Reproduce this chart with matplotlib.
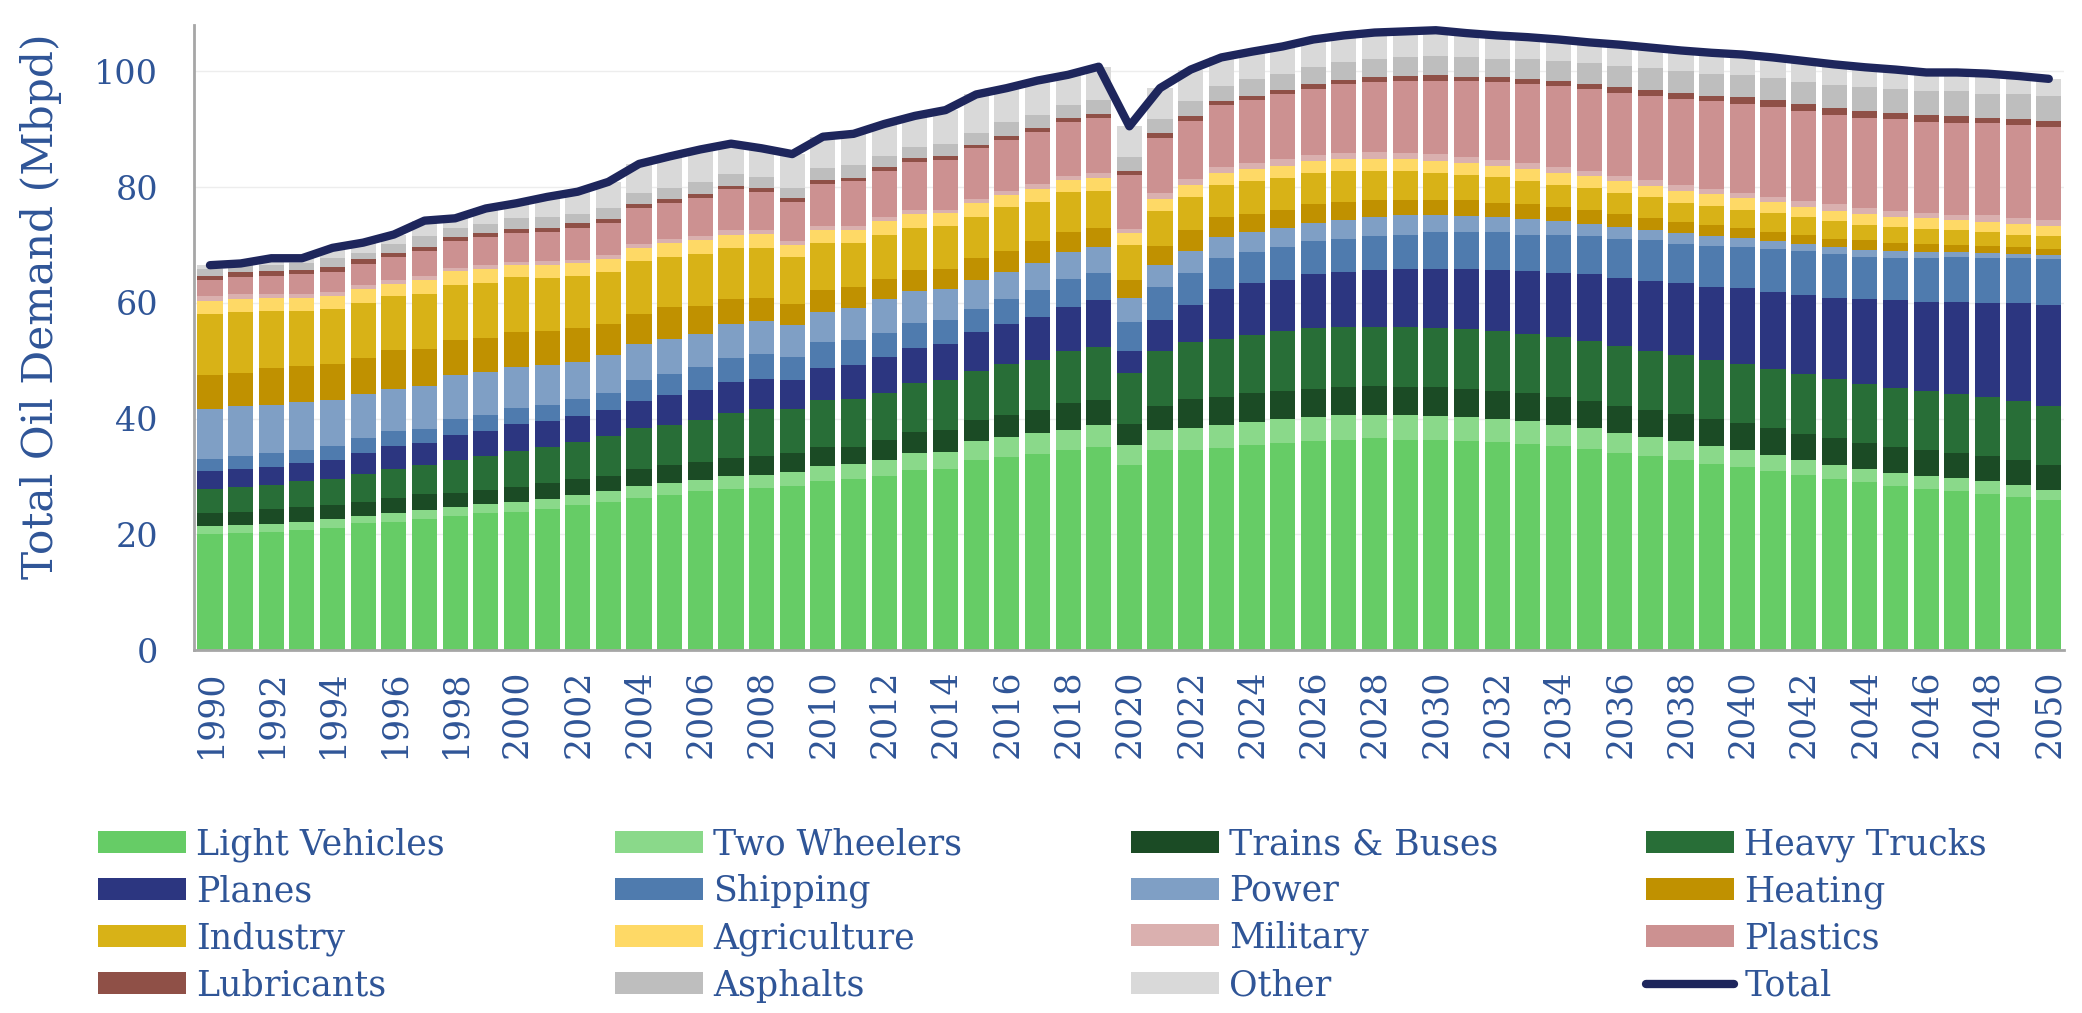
import numpy as np
import matplotlib
matplotlib.use('Agg')
import matplotlib.pyplot as plt
from matplotlib.patches import Patch
from matplotlib.lines import Line2D

plt.rcParams['font.family'] = 'DejaVu Serif'

years = list(range(1990, 2051))

# Oil demand by end use (Mbpd)
light_vehicles = [20.0, 20.2, 20.4, 20.8, 21.1, 21.9, 22.2, 22.7, 23.2, 23.7,
                  23.8, 24.4, 25.0, 25.6, 26.3, 26.8, 27.4, 27.9, 28.0, 28.3,
                  29.2, 29.5, 30.1, 31.1, 31.3, 32.8, 33.3, 33.8, 34.6, 35.1,
                  32.0, 34.5, 34.6, 34.9, 35.5, 35.8, 36.2, 36.3, 36.6, 36.3,
                  36.3, 36.1, 35.9, 35.6, 35.3, 34.8, 34.1, 33.5, 32.9, 32.2,
                  31.7, 31.0, 30.3, 29.5, 29.0, 28.4, 27.8, 27.5, 27.0, 26.5,
                  26.0]
two_wheelers = [1.4, 1.4, 1.4, 1.4, 1.5, 1.2, 1.4, 1.5, 1.5, 1.5,
                1.7, 1.7, 1.8, 1.8, 2.0, 2.0, 2.0, 2.1, 2.3, 2.5,
                2.6, 2.6, 2.8, 2.9, 3.0, 3.3, 3.5, 3.7, 3.5, 3.7,
                3.4, 3.5, 3.8, 3.9, 3.9, 4.1, 4.1, 4.3, 4.0, 4.3,
                4.1, 4.2, 4.0, 4.0, 3.6, 3.6, 3.4, 3.3, 3.2, 3.1,
                2.9, 2.7, 2.5, 2.5, 2.3, 2.2, 2.2, 2.2, 2.2, 2.0,
                1.7]
trains_buses = [2.3, 2.3, 2.5, 2.5, 2.4, 2.5, 2.7, 2.7, 2.5, 2.5,
                2.6, 2.7, 2.7, 2.7, 3.0, 3.1, 3.1, 3.1, 3.3, 3.2,
                3.3, 3.0, 3.4, 3.6, 3.8, 3.7, 3.8, 3.9, 4.6, 4.4,
                3.6, 4.1, 4.9, 4.9, 5.0, 4.8, 4.8, 4.8, 5.0, 4.8,
                5.0, 4.8, 4.8, 4.8, 4.8, 4.6, 4.7, 4.6, 4.7, 4.6,
                4.6, 4.6, 4.6, 4.6, 4.5, 4.5, 4.6, 4.3, 4.3, 4.3,
                4.3]
heavy_trucks = [4.2, 4.3, 4.3, 4.5, 4.5, 4.9, 5.0, 5.0, 5.7, 5.8,
                6.3, 6.3, 6.5, 6.8, 7.0, 6.9, 7.3, 7.8, 8.0, 7.7,
                8.1, 8.3, 8.2, 8.6, 8.6, 8.5, 8.8, 8.8, 8.9, 9.1,
                8.8, 9.5, 9.9, 10.0, 10.0, 10.4, 10.5, 10.5, 10.3, 10.4,
                10.2, 10.3, 10.4, 10.2, 10.4, 10.4, 10.3, 10.2, 10.2, 10.2,
                10.2, 10.2, 10.3, 10.2, 10.2, 10.1, 10.1, 10.2, 10.2, 10.2,
                10.2]
planes = [3.1, 3.1, 3.0, 3.2, 3.4, 3.6, 4.0, 3.9, 4.3, 4.3,
          4.6, 4.5, 4.5, 4.5, 4.8, 5.3, 5.2, 5.5, 5.3, 5.0,
          5.6, 5.8, 6.2, 6.0, 6.2, 6.7, 6.9, 7.4, 7.7, 8.1,
          3.8, 5.5, 6.5, 8.6, 9.0, 8.9, 9.3, 9.5, 9.8, 10.1,
          10.3, 10.5, 10.6, 10.9, 11.1, 11.5, 11.8, 12.2, 12.4, 12.7,
          13.1, 13.4, 13.7, 14.1, 14.6, 15.2, 15.4, 15.9, 16.3, 16.9,
          17.4]
shipping = [2.0, 2.2, 2.5, 2.2, 2.4, 2.5, 2.5, 2.4, 2.7, 2.8,
            2.9, 2.8, 2.9, 3.0, 3.5, 3.6, 3.9, 4.1, 4.3, 4.0,
            4.5, 4.3, 4.1, 4.3, 4.2, 3.9, 4.3, 4.6, 4.9, 4.8,
            5.1, 5.6, 5.5, 5.4, 5.4, 5.7, 5.7, 5.7, 5.9, 5.9,
            6.3, 6.3, 6.5, 6.3, 6.6, 6.6, 6.8, 7.0, 6.8, 7.0,
            7.2, 7.4, 7.5, 7.5, 7.4, 7.4, 7.7, 7.8, 7.7, 7.8,
            7.9]
power = [8.7, 8.6, 8.3, 8.2, 7.9, 7.6, 7.3, 7.4, 7.6, 7.4,
         7.0, 6.8, 6.4, 6.6, 6.2, 6.1, 5.7, 5.8, 5.6, 5.4,
         5.1, 5.6, 5.8, 5.5, 5.3, 5.0, 4.7, 4.6, 4.5, 4.4,
         4.2, 3.8, 3.7, 3.7, 3.4, 3.2, 3.2, 3.2, 3.2, 3.3,
         3.0, 2.8, 2.6, 2.7, 2.3, 2.1, 2.0, 1.7, 1.8, 1.7,
         1.5, 1.3, 1.3, 1.2, 1.2, 1.1, 1.0, 0.9, 0.9, 0.7,
         0.7]
heating = [5.9, 5.8, 6.3, 6.2, 6.3, 6.3, 6.7, 6.5, 6.0, 5.9,
           6.0, 5.9, 5.8, 5.4, 5.3, 5.4, 4.8, 4.3, 4.1, 3.7,
           3.8, 3.6, 3.6, 3.7, 3.5, 3.8, 3.7, 3.8, 3.6, 3.4,
           3.1, 3.3, 3.6, 3.4, 3.2, 3.2, 3.2, 3.2, 3.0, 2.7,
           2.6, 2.7, 2.5, 2.5, 2.4, 2.4, 2.2, 2.1, 2.0, 2.0,
           1.8, 1.7, 1.6, 1.5, 1.6, 1.4, 1.4, 1.2, 1.2, 1.3,
           1.1]
industry = [10.4, 10.5, 9.9, 9.6, 9.4, 9.5, 9.3, 9.5, 9.5, 9.6,
            9.5, 9.2, 9.1, 9.0, 9.2, 8.8, 9.1, 8.9, 8.6, 8.1,
            8.1, 7.6, 7.6, 7.3, 7.3, 7.2, 7.5, 6.9, 6.8, 6.4,
            6.0, 6.0, 5.7, 5.5, 5.6, 5.4, 5.4, 5.2, 5.0, 5.0,
            4.7, 4.4, 4.4, 4.1, 3.9, 3.9, 3.7, 3.6, 3.3, 3.3,
            3.1, 3.2, 3.0, 3.0, 2.7, 2.8, 2.6, 2.5, 2.4, 2.1,
            2.3]
agriculture = [2.3, 2.2, 2.3, 2.3, 2.2, 2.4, 2.2, 2.3, 2.5, 2.4,
               2.1, 2.2, 2.1, 2.2, 2.2, 2.3, 2.3, 2.3, 2.4, 2.1,
               2.2, 2.2, 2.3, 2.3, 2.4, 2.3, 2.1, 2.1, 2.1, 2.1,
               2.0, 2.1, 2.2, 2.1, 2.2, 2.2, 2.1, 2.2, 2.1, 2.1,
               2.0, 2.1, 2.0, 2.1, 2.0, 2.0, 2.0, 2.0, 2.1, 2.0,
               2.0, 1.9, 1.8, 1.8, 1.9, 1.8, 1.8, 1.8, 1.8, 1.8,
               1.7]
military = [0.9, 1.0, 0.7, 0.7, 0.8, 0.6, 0.6, 0.7, 0.5, 0.6,
            0.6, 0.7, 0.6, 0.6, 0.7, 0.7, 0.7, 0.7, 0.6, 0.7,
            0.8, 0.8, 0.7, 0.7, 0.5, 0.7, 0.8, 0.9, 0.7, 0.9,
            0.8, 1.0, 1.0, 1.1, 1.0, 1.2, 1.1, 1.0, 1.2, 1.0,
            1.2, 1.0, 1.0, 1.0, 1.1, 0.9, 0.9, 1.0, 1.0, 0.9,
            0.9, 0.9, 1.0, 1.1, 0.9, 0.9, 1.0, 0.9, 1.1, 1.1,
            1.0]
plastics = [2.7, 2.8, 3.1, 3.3, 3.5, 3.7, 4.0, 4.4, 4.7, 4.8,
            4.9, 5.1, 5.6, 5.6, 6.1, 6.2, 6.6, 7.1, 6.7, 6.8,
            7.3, 7.7, 7.9, 8.4, 8.5, 8.8, 8.8, 9.0, 9.4, 9.6,
            9.2, 9.6, 10.1, 10.6, 10.9, 11.1, 11.4, 11.9, 12.0, 12.5,
            12.7, 13.1, 13.4, 13.6, 13.9, 14.1, 14.4, 14.6, 14.9, 15.1,
            15.4, 15.6, 15.6, 15.5, 15.7, 15.9, 15.7, 15.9, 15.9, 16.0,
            16.0]
lubricants = [0.8, 0.9, 0.8, 0.8, 0.8, 0.8, 0.7, 0.6, 0.6, 0.7,
              0.8, 0.7, 0.8, 0.7, 0.8, 0.7, 0.7, 0.6, 0.7, 0.6,
              0.7, 0.6, 0.7, 0.7, 0.7, 0.5, 0.6, 0.7, 0.6, 0.6,
              0.8, 0.8, 0.8, 0.7, 0.7, 0.8, 0.8, 0.7, 0.9, 0.8,
              1.0, 0.8, 0.9, 0.8, 0.9, 0.9, 1.0, 1.0, 1.0, 1.0,
              1.1, 1.1, 1.1, 1.1, 1.1, 1.1, 1.2, 1.2, 1.0, 1.1,
              1.2]
asphalts = [1.2, 1.2, 1.1, 1.1, 1.5, 1.1, 1.6, 1.9, 1.7, 1.6,
            1.8, 1.8, 1.5, 1.9, 1.9, 2.0, 2.0, 2.0, 1.9, 1.8,
            2.0, 2.2, 2.0, 1.9, 2.1, 2.2, 2.5, 2.3, 2.3, 2.5,
            2.4, 2.5, 2.6, 2.7, 2.8, 2.8, 2.9, 3.1, 3.1, 3.2,
            3.2, 3.3, 3.2, 3.5, 3.4, 3.6, 3.6, 3.7, 3.7, 3.8,
            3.8, 3.8, 3.9, 4.0, 4.2, 4.1, 4.1, 4.3, 4.1, 4.2,
            4.2]
other = [0.6, 0.3, 1.1, 0.9, 1.8, 1.8, 1.6, 2.7, 1.6, 2.7,
         2.6, 3.5, 3.9, 4.5, 5.0, 5.4, 5.7, 5.3, 4.9, 5.8,
         5.4, 5.4, 5.5, 5.3, 5.9, 6.6, 5.8, 5.9, 5.2, 5.7,
         5.3, 5.3, 5.4, 4.9, 4.8, 4.7, 4.8, 4.6, 4.6, 4.5,
         4.5, 4.2, 4.0, 3.8, 3.8, 3.6, 3.7, 3.6, 3.6, 3.6,
         3.6, 3.6, 3.6, 3.6, 3.4, 3.4, 3.2, 3.2, 3.5, 3.2,
         3.0]

series = [
    ('Light Vehicles', light_vehicles, '#66CC66'),
    ('Two Wheelers', two_wheelers, '#8AD98A'),
    ('Trains & Buses', trains_buses, '#1B4B25'),
    ('Heavy Trucks', heavy_trucks, '#286E37'),
    ('Planes', planes, '#2C3680'),
    ('Shipping', shipping, '#4F7BAE'),
    ('Power', power, '#7F9FC5'),
    ('Heating', heating, '#C09100'),
    ('Industry', industry, '#D8B217'),
    ('Agriculture', agriculture, '#FED966'),
    ('Military', military, '#DAB0AF'),
    ('Plastics', plastics, '#CC9191'),
    ('Lubricants', lubricants, '#8F5047'),
    ('Asphalts', asphalts, '#BEBEBE'),
    ('Other', other, '#D9D9D9'),
]

text_color = '#2F5597'
total_color = '#1E265C'

fig = plt.figure(figsize=(20.82, 10.13), dpi=100)
ax = fig.add_axes([0.0932, 0.3583, 0.8982, 0.617])

bottom = np.zeros(len(years))
for name, vals, color in series:
    ax.bar(years, vals, width=0.82, bottom=bottom, color=color, linewidth=0, zorder=2)
    bottom += np.array(vals)

# total line is the sum of the stack
ax.plot(years, bottom, color=total_color, lw=6, solid_capstyle='round',
        solid_joinstyle='round', zorder=5)

ax.set_xlim(1989.48, 2050.5)
ax.set_ylim(0, 108)
ax.set_yticks(range(0, 101, 20))
ax.set_xticks(years[::2])
ax.set_xticklabels([str(y) for y in years[::2]], rotation=90)
ax.tick_params(axis='y', length=0, pad=26, labelsize=24, labelcolor=text_color)
ax.tick_params(axis='x', length=0, pad=14, labelsize=25, labelcolor=text_color)
ax.set_ylabel('Total Oil Demand (Mbpd)', fontsize=30.5, color=text_color)
ax.yaxis.set_label_coords(-0.0705, 0.55)

ax.grid(axis='y', color='#EDEDED', lw=1)
ax.set_axisbelow(True)
for side in ['top', 'right']:
    ax.spines[side].set_visible(False)
for side in ['left', 'bottom']:
    ax.spines[side].set_color('#A6A6A6')
    ax.spines[side].set_linewidth(2)

# legend: four columns filled row by row
handles = [Patch(color=c, linewidth=0) for _, _, c in series]
handles.append(Line2D([0], [0], color=total_color, lw=6, solid_capstyle='round'))
labels = [n for n, _, _ in series] + ['Total']

col_x = [0.0471, 0.2954, 0.5432, 0.7906]
for i, x in enumerate(col_x):
    fig.legend(handles[i::4], labels[i::4], loc='upper left', bbox_to_anchor=(x, 0.1836),
               frameon=False, fontsize=25, handlelength=2.54, handleheight=0.6,
               handletextpad=0.29, labelspacing=0.37, borderpad=0, borderaxespad=0,
               labelcolor=text_color)

fig.savefig('out.png', dpi=100)
